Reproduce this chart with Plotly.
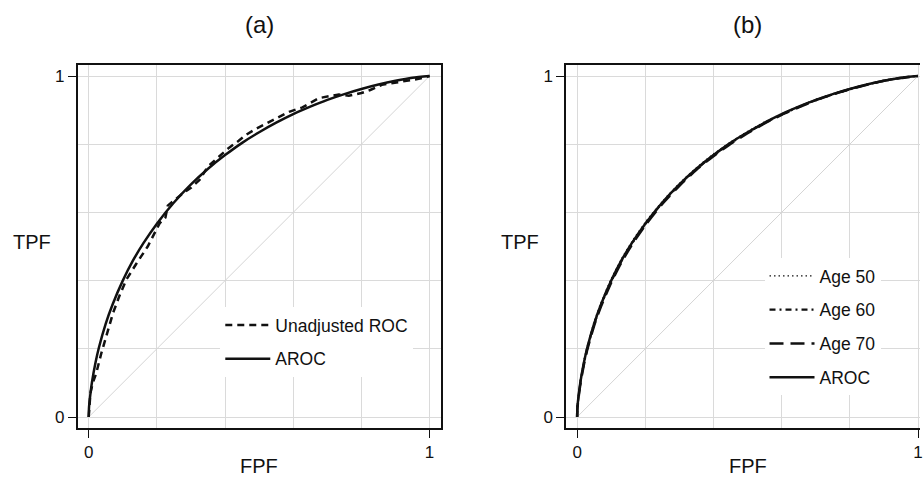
import plotly.graph_objects as go

# ---- data -------------------------------------------------------------
# Covariate-adjusted ROC curve (AROC), shared by both panels
aroc_fpf = [0, 0.001, 0.005, 0.01, 0.02, 0.03, 0.05, 0.07, 0.1, 0.13, 0.16, 0.2, 0.25, 0.3,
            0.35, 0.4, 0.45, 0.5, 0.55, 0.6, 0.65, 0.7, 0.75, 0.8, 0.85, 0.9, 0.95, 1.0]
aroc_tpf = [0, 0.030, 0.068, 0.105, 0.160, 0.204, 0.274, 0.330, 0.400, 0.459, 0.509, 0.567, 0.629, 0.682,
            0.728, 0.768, 0.804, 0.835, 0.863, 0.888, 0.910, 0.930, 0.947, 0.962, 0.975, 0.986, 0.995, 1.0]

# Empirical (unadjusted) ROC curve
unadj_fpf = [0, 0.005, 0.012, 0.022, 0.037, 0.055, 0.071, 0.09, 0.110, 0.14, 0.173, 0.208, 0.225,
             0.232, 0.25, 0.276, 0.30, 0.325, 0.349, 0.383, 0.412, 0.44, 0.461, 0.49, 0.52, 0.55,
             0.588, 0.627, 0.675, 0.734, 0.745, 0.763, 0.80, 0.826, 0.86, 0.90, 0.948, 0.975, 1.0]
unadj_tpf = [0, 0.07, 0.10, 0.128, 0.187, 0.25, 0.304, 0.355, 0.402, 0.45, 0.50, 0.568, 0.585,
             0.62, 0.635, 0.656, 0.672, 0.695, 0.734, 0.763, 0.79, 0.81, 0.827, 0.845, 0.861, 0.875,
             0.895, 0.908, 0.935, 0.946, 0.944, 0.942, 0.95, 0.959, 0.974, 0.98, 0.988, 0.993, 1.0]

# Age-specific covariate ROC curves
age_fpf = aroc_fpf
age50_tpf = [0, 0.032, 0.072, 0.110, 0.165, 0.209, 0.279, 0.335, 0.405, 0.463, 0.513, 0.571, 0.632, 0.685,
             0.731, 0.771, 0.806, 0.837, 0.865, 0.889, 0.911, 0.931, 0.948, 0.963, 0.976, 0.987, 0.995, 1.0]
age60_tpf = [0, 0.029, 0.066, 0.103, 0.158, 0.202, 0.272, 0.328, 0.398, 0.457, 0.507, 0.566, 0.628, 0.681,
             0.727, 0.767, 0.803, 0.834, 0.862, 0.887, 0.909, 0.929, 0.946, 0.961, 0.975, 0.986, 0.995, 1.0]
age70_tpf = [0, 0.027, 0.063, 0.099, 0.154, 0.198, 0.268, 0.324, 0.394, 0.453, 0.504, 0.562, 0.625, 0.678,
             0.725, 0.765, 0.801, 0.832, 0.861, 0.886, 0.908, 0.929, 0.946, 0.961, 0.974, 0.986, 0.994, 1.0]

diag = [0, 1]
grid_vals = [0, 0.2, 0.4, 0.6, 0.8, 1]
tick_vals = [0, 1]
tick_text = ["0", "1"]

W, H = 923, 480
FONT = "Liberation Sans, Arial, Helvetica, sans-serif"
INK = "#111111"
GRID = "#dadada"

fig = go.Figure()

# ---- panel (a) --------------------------------------------------------
fig.add_trace(go.Scatter(x=diag, y=diag, mode="lines", showlegend=False, hoverinfo="skip",
                         line=dict(color="#d4d4d4", width=1), xaxis="x", yaxis="y"))
fig.add_trace(go.Scatter(x=unadj_fpf, y=unadj_tpf, mode="lines", name="Unadjusted ROC",
                         legend="legend", legendgroup="a1",
                         line=dict(color=INK, width=2.5, dash="7px,5px"), xaxis="x", yaxis="y"))
fig.add_trace(go.Scatter(x=aroc_fpf, y=aroc_tpf, mode="lines", name="AROC",
                         legend="legend", legendgroup="a2",
                         line=dict(color=INK, width=2.5, shape="spline", smoothing=0.6),
                         xaxis="x", yaxis="y"))

# ---- panel (b) --------------------------------------------------------
fig.add_trace(go.Scatter(x=diag, y=diag, mode="lines", showlegend=False, hoverinfo="skip",
                         line=dict(color="#d4d4d4", width=1), xaxis="x2", yaxis="y2"))
for name, tpf, dash, width, grp in [
    ("Age 50", age50_tpf, "1.5px,3px", 1.4, "b1"),
    ("Age 60", age60_tpf, "6px,4px,2px,4px", 2.2, "b2"),
    ("Age 70", age70_tpf, "14px,7px", 2.5, "b3"),
]:
    fig.add_trace(go.Scatter(x=age_fpf, y=tpf, mode="lines", name=name,
                             legend="legend2", legendgroup=grp,
                             line=dict(color=INK, width=width, dash=dash, shape="spline", smoothing=0.6),
                             xaxis="x2", yaxis="y2"))
fig.add_trace(go.Scatter(x=aroc_fpf, y=aroc_tpf, mode="lines", name="AROC",
                         legend="legend2", legendgroup="b4",
                         line=dict(color=INK, width=2.5, shape="spline", smoothing=0.6),
                         xaxis="x2", yaxis="y2"))


def px_x(p):
    return p / W


def px_y(p):
    return 1 - p / H


axis_common = dict(
    tickmode="array", tickvals=tick_vals, ticktext=tick_text,
    ticks="outside", ticklen=8, tickwidth=1.3, tickcolor=INK,
    showline=True, linecolor=INK, linewidth=1.6,
    showgrid=True, gridcolor=GRID, gridwidth=1,
    minor=dict(tickmode="array", tickvals=grid_vals, showgrid=True,
               gridcolor=GRID, gridwidth=1, ticks=""),
    zeroline=False, tickfont=dict(size=17, color=INK, family=FONT),
    fixedrange=True,
)

fig.update_layout(
    width=W, height=H,
    margin=dict(l=0, r=0, t=0, b=0),
    paper_bgcolor="white", plot_bgcolor="white",
    font=dict(family=FONT, color=INK),
    xaxis=dict(domain=[px_x(78), px_x(442)], range=[-11 / 342, 353 / 342],
               anchor="y", mirror=True, **axis_common),
    yaxis=dict(domain=[px_y(428), px_y(65)], range=[-11 / 341, 352 / 341],
               anchor="x", mirror=True, **axis_common),
    xaxis2=dict(domain=[px_x(568), 1], range=[-11 / 342, 344 / 342],
                anchor="y2", mirror=True, ticklabeloverflow="allow", **axis_common),
    yaxis2=dict(domain=[px_y(428), px_y(65)], range=[-11 / 341, 352 / 341],
                anchor="x2", mirror=False, **axis_common),
    legend=dict(x=px_x(221), y=px_y(307), xanchor="left", yanchor="top",
                bgcolor="white", borderwidth=0, tracegroupgap=8, itemwidth=45,
                font=dict(size=17.5, color=INK, family=FONT)),
    legend2=dict(x=px_x(767), y=px_y(258), xanchor="left", yanchor="top",
                 bgcolor="white", borderwidth=0, tracegroupgap=8, itemwidth=45,
                 font=dict(size=17.5, color=INK, family=FONT)),
    showlegend=True,
)

# panel titles and axis titles
labels = [
    ("(a)", 260, 24, 24), ("(b)", 750, 24, 24),
    ("TPF", 32, 242, 20), ("TPF", 522, 242, 20),
    ("FPF", 260, 466, 20), ("FPF", 750, 466, 20),
]
for text, x, y, size in labels:
    fig.add_annotation(text=text, x=px_x(x), y=px_y(y), xref="paper", yref="paper",
                       xanchor="center", yanchor="middle", showarrow=False,
                       font=dict(size=size, color=INK, family=FONT))

fig.write_html("out.html")
